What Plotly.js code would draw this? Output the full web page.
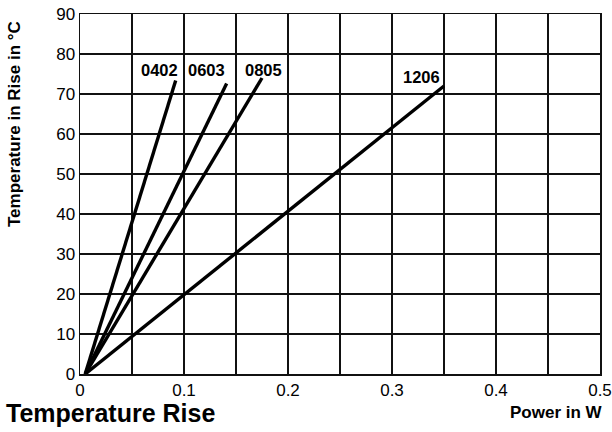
<!DOCTYPE html>
<html><head><meta charset="utf-8">
<script src="https://cdn.plot.ly/plotly-3.0.1.min.js"></script>
<style>body{margin:0;background:#fff}#chart{width:612px;height:432px}</style>
</head><body><div id="chart"></div>
<script>
const seriesNames = ["0402", "0603", "0805", "1206"];
const powerW = [
  [0.005, 0.092],
  [0.005, 0.141],
  [0.005, 0.175],
  [0.005, 0.35]
];
const tempRise = [
  [0, 73.4],
  [0, 72.6],
  [0, 74],
  [0, 72]
];
const labelX = [0.0766, 0.122, 0.176, 0.3285];
const labelY = [76, 76, 76, 74.3];
const xTickVals = [0, 0.05, 0.1, 0.15, 0.2, 0.25, 0.3, 0.35, 0.4, 0.45, 0.5];
const xTickText = ['0', '', '0.1', '', '0.2', '', '0.3', '', '0.4', '', '0.5'];

const FONT = 'Liberation Sans, Arial, Helvetica, sans-serif';
const L = 80, R = 12, T = 14, B = 58;
const PW = 612 - L - R, PH = 432 - T - B;

const traces = seriesNames.map((n, i) => ({
  x: powerW[i], y: tempRise[i], mode: 'lines', name: n,
  line: {color: '#000', width: 3.4}, hoverinfo: 'skip'
}));

const annotations = seriesNames.map((n, i) => ({
  x: labelX[i], y: labelY[i], xref: 'x', yref: 'y', text: '<b>' + n + '</b>', showarrow: false,
  font: {family: FONT, size: 16.5, color: '#000'}
}));
annotations.push({
  xref: 'paper', yref: 'paper', x: (4 - L) / PW, y: -(413 - (T + PH)) / PH,
  xanchor: 'left', yanchor: 'middle', showarrow: false, text: '<b>Temperature Rise</b>',
  font: {family: FONT, size: 25, color: '#000'}
});
annotations.push({
  xref: 'paper', yref: 'paper', x: (605 - L) / PW, y: -(412 - (T + PH)) / PH,
  xanchor: 'right', yanchor: 'middle', showarrow: false, text: '<b>Power in W</b>',
  font: {family: FONT, size: 17, color: '#000'}
});
annotations.push({
  xref: 'paper', yref: 'paper', x: (14 - L) / PW, y: ((T + PH) - 124) / PH,
  xanchor: 'center', yanchor: 'middle', showarrow: false, textangle: -90,
  text: '<b>Temperature in Rise in °C</b>',
  font: {family: FONT, size: 17, color: '#000'}
});

const axisCommon = {
  showgrid: true, gridcolor: '#111', gridwidth: 1.2,
  showline: true, linecolor: '#111', linewidth: 1.5, mirror: true,
  zeroline: false, ticks: '',
  tickfont: {family: FONT, size: 17, color: '#000'}
};

const layout = {
  width: 612, height: 432,
  margin: {l: L, r: R, t: T, b: B},
  paper_bgcolor: '#fff', plot_bgcolor: '#fff',
  showlegend: false,
  xaxis: Object.assign({}, axisCommon, {range: [0, 0.5], tickvals: xTickVals, ticktext: xTickText,
    ticklabeloverflow: 'allow'}),
  yaxis: Object.assign({}, axisCommon, {range: [0, 90], dtick: 10}),
  annotations: annotations
};

Plotly.newPlot('chart', traces, layout, {staticPlot: true});
</script></body></html>
